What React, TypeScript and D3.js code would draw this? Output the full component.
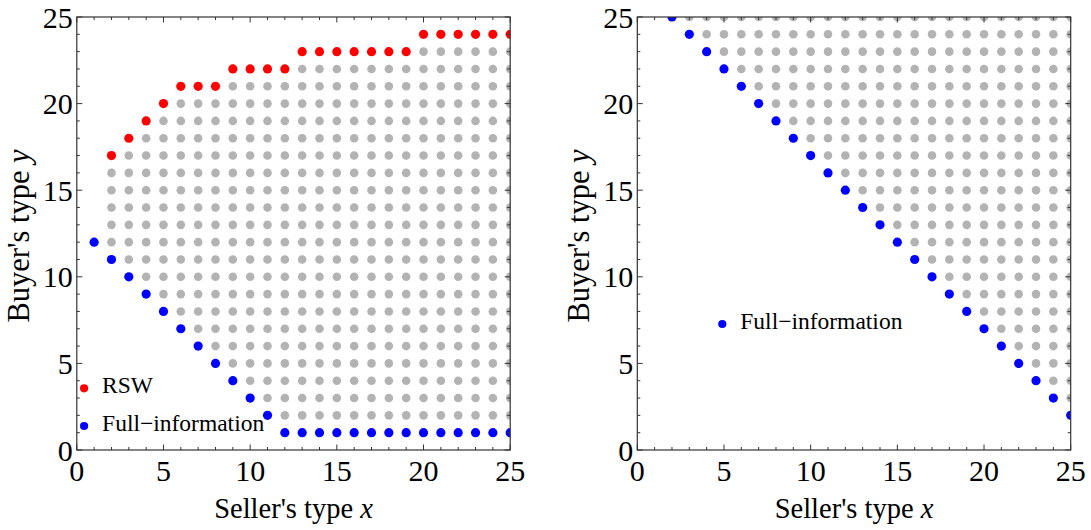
import React from 'react';
import * as d3 from 'd3';

// Left panel: seller type x -> buyer type y on the RSW boundary
const rswX = d3.range(2, 26);
const rswY = [17, 18, 19, 20, 21, 21, 21, 22, 22, 22, 22, 23, 23, 23, 23, 23, 23, 23, 24, 24, 24, 24, 24, 24];

// Left panel: full-information boundary
const fullLeftX = d3.range(1, 26);
const fullLeftY = [12, 11, 10, 9, 8, 7, 6, 5, 4, 3, 2, 1, 1, 1, 1, 1, 1, 1, 1, 1, 1, 1, 1, 1, 1];

// Left panel: gray feasible columns (low..high per seller type)
const grayLeftX = d3.range(2, 26);
const grayLeftLow = [12, 11, 10, 9, 8, 7, 6, 5, 4, 3, 2, 2, 2, 2, 2, 2, 2, 2, 2, 2, 2, 2, 2, 2];
const grayLeftHigh = [16, 17, 18, 19, 20, 20, 20, 21, 21, 21, 21, 22, 22, 22, 22, 22, 22, 22, 23, 23, 23, 23, 23, 23];

// Right panel: full-information boundary
const fullRightX = d3.range(2, 26);
const fullRightY = [25, 24, 23, 22, 21, 20, 19, 18, 17, 16, 15, 14, 13, 12, 11, 10, 9, 8, 7, 6, 5, 4, 3, 2];

// Right panel: gray columns
const grayRightX = d3.range(3, 26);
const grayRightLow = [25, 24, 23, 22, 21, 20, 19, 18, 17, 16, 15, 14, 13, 12, 11, 10, 9, 8, 7, 6, 5, 4, 3];
const grayRightHigh = [25, 25, 25, 25, 25, 25, 25, 25, 25, 25, 25, 25, 25, 25, 25, 25, 25, 25, 25, 25, 25, 25, 25];

const majorTicks = [0, 5, 10, 15, 20, 25];
const minorTicks = d3.range(0, 26);

const xLabel = "Seller's type ";
const yLabel = "Buyer's type ";

const FONT = "Liberation Serif, Times New Roman, serif";
const GRAY = '#b3b3b3';
const RED = '#ff0000';
const BLUE = '#0000ff';
const FRAME = '#333';

type Pt = { x: number; y: number };

const toPoints = (xs: number[], ys: number[]): Pt[] => xs.map((x, i) => ({ x, y: ys[i] }));
const toGrid = (xs: number[], lo: number[], hi: number[]): Pt[] =>
  xs.flatMap((x, i) => d3.range(lo[i], hi[i] + 1).map(y => ({ x, y })));

interface LegendItem { label: string; color: string; dx: number; dy: number }

interface PanelProps {
  id: string;
  left: number;
  gray: Pt[];
  series: { pts: Pt[]; color: string }[];
  legend: LegendItem[];
}

const top = 17;
const bottom = 450;
const plotW = 433.4;

const Panel: React.FC<PanelProps> = ({ id, left, gray, series, legend }) => {
  const x = d3.scaleLinear().domain([0, 25]).range([left, left + plotW]);
  const y = d3.scaleLinear().domain([0, 25]).range([bottom, top]);
  const right = left + plotW;

  return (
    <g>
      <defs>
        <clipPath id={`clip-${id}`}>
          <rect x={left} y={top} width={plotW} height={bottom - top} />
        </clipPath>
      </defs>

      <g clipPath={`url(#clip-${id})`}>
        {gray.map((d, i) => (
          <circle key={`g${i}`} cx={x(d.x)} cy={y(d.y)} r={4.3} fill={GRAY} />
        ))}
        {series.map((s, j) =>
          s.pts.map((d, i) => (
            <circle key={`s${j}-${i}`} cx={x(d.x)} cy={y(d.y)} r={4.6} fill={s.color} />
          ))
        )}
      </g>

      {/* frame and ticks */}
      <rect x={left} y={top} width={plotW} height={bottom - top} fill="none" stroke={FRAME} strokeWidth={1.2} />
      {minorTicks.map(t => {
        const len = t % 5 === 0 ? 5.5 : 3;
        return (
          <g key={`t${t}`} stroke={FRAME} strokeWidth={1}>
            <line x1={x(t)} x2={x(t)} y1={bottom} y2={bottom - len} />
            <line x1={x(t)} x2={x(t)} y1={top} y2={top + len} />
            <line x1={left} x2={left + len} y1={y(t)} y2={y(t)} />
            <line x1={right} x2={right - len} y1={y(t)} y2={y(t)} />
          </g>
        );
      })}

      {/* tick labels */}
      {majorTicks.map(t => (
        <text key={`xl${t}`} x={x(t)} y={481} textAnchor="middle"
          style={{ fontFamily: FONT, fontSize: 30 }}>{t}</text>
      ))}
      {majorTicks.map(t => (
        <text key={`yl${t}`} x={left - 4} y={y(t) + 10.5} textAnchor="end"
          style={{ fontFamily: FONT, fontSize: 30 }}>{t}</text>
      ))}

      {/* axis labels */}
      <text x={(left + right) / 2} y={518} textAnchor="middle" style={{ fontFamily: FONT, fontSize: 28.5 }}>
        {xLabel}<tspan fontStyle="italic">x</tspan>
      </text>
      <text
        transform={`translate(${left - 48},${236}) rotate(-90)`}
        textAnchor="middle"
        style={{ fontFamily: FONT, fontSize: 30.5 }}
      >
        {yLabel}<tspan fontStyle="italic">y</tspan>
      </text>

      {/* legend */}
      {legend.map((l, i) => (
        <g key={`lg${i}`}>
          <circle cx={left + l.dx} cy={l.dy} r={4.1} fill={l.color} />
          <text x={left + l.dx + 18} y={l.dy + 5} style={{ fontFamily: FONT, fontSize: 23.5 }}>{l.label}</text>
        </g>
      ))}
    </g>
  );
};

const App: React.FC = () => {
  return (
    <svg width={1091} height={530} style={{ position: 'absolute', left: 0, top: 0, background: '#fff' }}>
      <rect width={1091} height={530} fill="#fff" />
      <Panel
        id="left"
        left={76.8}
        gray={toGrid(grayLeftX, grayLeftLow, grayLeftHigh)}
        series={[
          { pts: toPoints(rswX, rswY), color: RED },
          { pts: toPoints(fullLeftX, fullLeftY), color: BLUE },
        ]}
        legend={[
          { label: 'RSW', color: RED, dx: 7.3, dy: 388.3 },
          { label: 'Full\u2212information', color: BLUE, dx: 7.3, dy: 426 },
        ]}
      />
      <Panel
        id="right"
        left={637.3}
        gray={toGrid(grayRightX, grayRightLow, grayRightHigh)}
        series={[{ pts: toPoints(fullRightX, fullRightY), color: BLUE }]}
        legend={[{ label: 'Full\u2212information', color: BLUE, dx: 85, dy: 324 }]}
      />
    </svg>
  );
};

export default App;
